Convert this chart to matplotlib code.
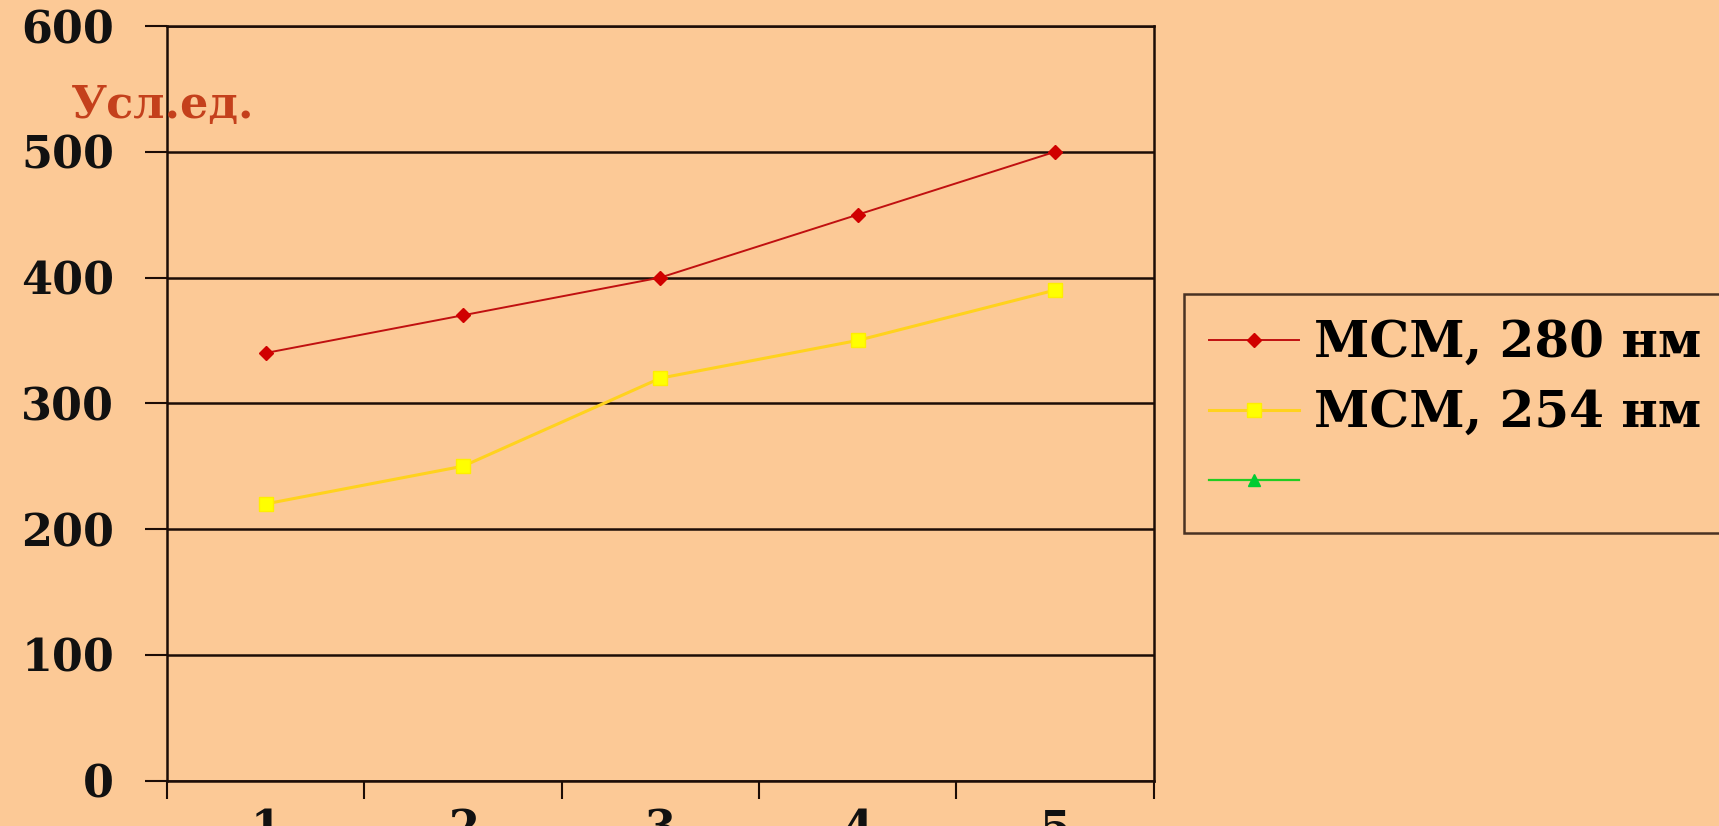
import numpy as np
import matplotlib
matplotlib.use('Agg')
import matplotlib.pyplot as plt

# sample numbers along x, readings in conventional units
samples = [1, 2, 3, 4, 5]
msm_280 = [340, 370, 400, 450, 500]
msm_254 = [220, 250, 320, 350, 390]
labels = ['МСМ, 280 нм', 'МСМ, 254 нм', '']
yticks = [0, 100, 200, 300, 400, 500, 600]

bg = '#fcc996'
ink = '#1c0c06'
serif = 'DejaVu Serif'

fig = plt.figure(figsize=(17.19, 8.26), dpi=100, facecolor=bg)
ax = fig.add_axes([0.0972, 0.055, 0.574, 0.9135], facecolor=bg)

l1, = ax.plot(samples, msm_280, color='#c01010', lw=1.4, marker='D', ms=7,
              mfc='#d00000', mec='#d00000')
l2, = ax.plot(samples, msm_254, color='#ffd21e', lw=2.2, marker='s', ms=10,
              mfc='#ffff00', mec='#ffee00')
l3, = ax.plot([], [], color='#22cc22', lw=1.6, marker='^', ms=9,
              mfc='#00cc33', mec='#00cc33')

ax.set_xlim(0.5, 5.5)
ax.set_ylim(0, 600)

# category axis: ticks between samples, labels centred on them
ax.set_xticks(np.arange(0.5, 6.0, 1.0))
ax.set_xticklabels([])
ax.set_xticks(samples, minor=True)
ax.set_xticklabels([str(s) for s in samples], minor=True)
ax.tick_params(axis='x', which='major', direction='out', length=13, width=1.5, color=ink)
ax.tick_params(axis='x', which='minor', length=0, pad=20)

ax.set_yticks(yticks)
ax.tick_params(axis='y', direction='out', length=16, width=1.5, color=ink, pad=22)

for lab in ax.get_xticklabels(minor=True) + ax.get_yticklabels():
    lab.set_fontfamily(serif)
    lab.set_fontweight('bold')
    lab.set_fontsize(32)
    lab.set_color('#111111')

ax.yaxis.grid(True, color=ink, lw=1.8)
ax.set_axisbelow(True)
for sp in ax.spines.values():
    sp.set_color(ink)
    sp.set_linewidth(1.8)

fig.text(0.041, 0.872, 'Усл.ед.', family=serif, weight='bold',
         fontsize=32, color='#c4401c', va='center', ha='left')

leg = fig.legend([l1, l2, l3], labels, loc='upper left',
                 bbox_to_anchor=(0.689, 0.644), frameon=True, fancybox=False,
                 facecolor=bg, edgecolor=ink, handlelength=1.8, handletextpad=0.3,
                 borderpad=0.5, labelspacing=0.42, borderaxespad=0,
                 prop={'family': serif, 'weight': 'bold', 'size': 36})
leg.get_frame().set_linewidth(1.8)

fig.savefig('out.png', dpi=100, facecolor=bg)
